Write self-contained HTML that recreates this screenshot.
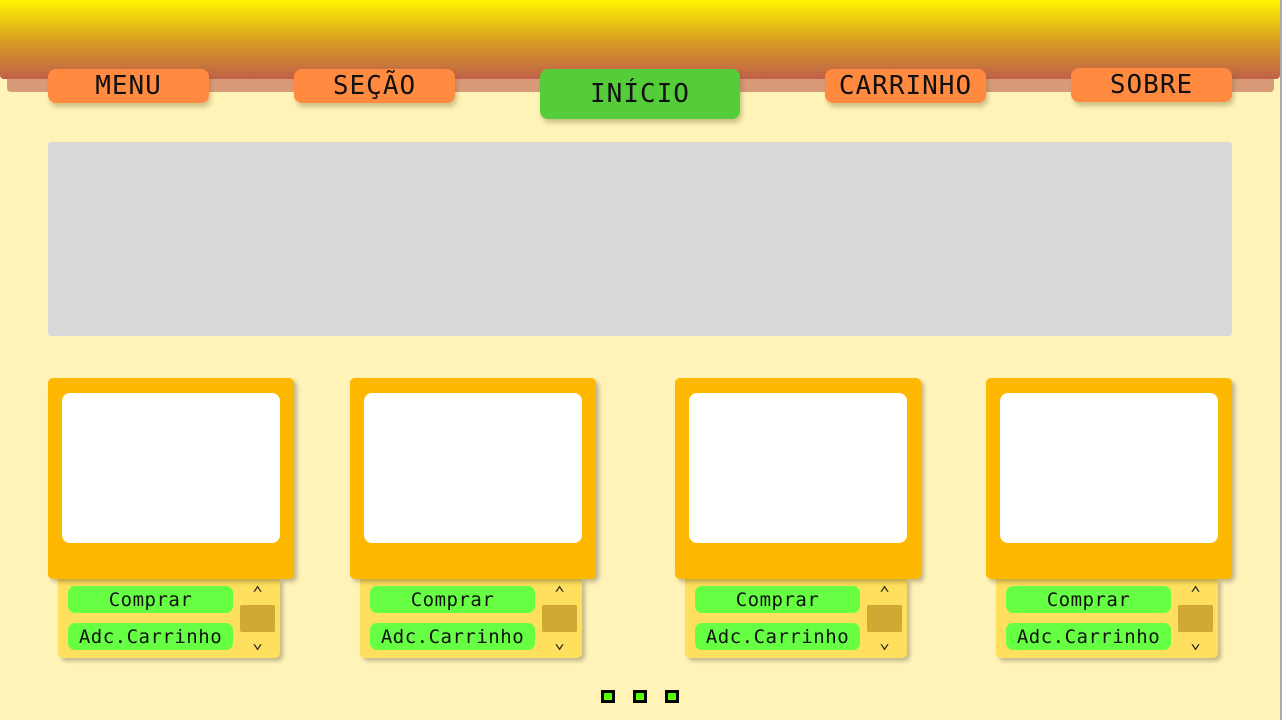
<!DOCTYPE html>
<html><head><style>
body{margin:0;width:1282px;height:720px;background:#fff3b8;position:relative;overflow:hidden;font-family:"DejaVu Sans Mono","Liberation Mono",monospace}
.a{position:absolute}
.hdr{left:0;top:0;width:1280px;height:79px;background:linear-gradient(#fff500,#d9a020 50%,#c0604a);border-radius:0 0 4px 4px}
.band{left:7px;top:76px;width:1267px;height:16px;background:#d99a78;border-radius:0 0 4px 4px}
.edge{left:1280px;top:0;width:2px;height:720px;background:#aaa}
.nav{background:#ff8a40;border-radius:8px;box-shadow:2px 4px 5px rgba(120,100,40,.35);display:flex;align-items:center;justify-content:center;font-size:26px;letter-spacing:1px;color:#111}
.card{width:246px;height:201px;background:#ffb800;border-radius:5px;box-shadow:3px 3px 4px rgba(0,0,0,.25)}
.img{width:218px;height:150px;background:#fff;border-radius:8px}
.pan{width:222px;height:79px;background:#ffdf5e;border-radius:0 0 5px 5px;box-shadow:3px 3px 4px rgba(0,0,0,.25)}
.btn{width:165px;height:27px;background:#66ff44;border-radius:7px;display:flex;align-items:center;justify-content:center;font-size:19px;letter-spacing:0.5px;color:#111}
.scr{width:35px;height:27px;background:#d0a834;border-radius:2px}
.ar{font-size:18px;color:#222;width:35px;text-align:center;line-height:18px}
.dot{width:8px;height:7px;background:#55ff00;border:3px solid #000;top:690px}
</style></head><body>
<div class="a edge"></div>
<div class="a band"></div>
<div class="a hdr"></div>
<div class="a nav" style="left:48px;top:69px;width:161px;height:34px">MENU</div>
<div class="a nav" style="left:294px;top:69px;width:161px;height:34px">SEÇÃO</div>
<div class="a nav" style="left:540px;top:69px;width:200px;height:50px;background:#55cc3a">INÍCIO</div>
<div class="a nav" style="left:825px;top:69px;width:161px;height:34px">CARRINHO</div>
<div class="a nav" style="left:1071px;top:68px;width:161px;height:34px">SOBRE</div>
<div class="a" style="left:48px;top:142px;width:1184px;height:194px;background:#d9d9d9;border-radius:3px"></div>

<div class="a pan" style="left:58px;top:579px"></div><div class="a card" style="left:48px;top:378px"></div><div class="a img" style="left:62px;top:393px"></div>
<div class="a btn" style="left:68px;top:586px">Comprar</div><div class="a btn" style="left:68px;top:623px">Adc.Carrinho</div>
<div class="a ar" style="left:240px;top:585px">⌃</div><div class="a scr" style="left:240px;top:605px"></div><div class="a ar" style="left:240px;top:634px">⌄</div>

<div class="a pan" style="left:360px;top:579px"></div><div class="a card" style="left:350px;top:378px"></div><div class="a img" style="left:364px;top:393px"></div>
<div class="a btn" style="left:370px;top:586px">Comprar</div><div class="a btn" style="left:370px;top:623px">Adc.Carrinho</div>
<div class="a ar" style="left:542px;top:585px">⌃</div><div class="a scr" style="left:542px;top:605px"></div><div class="a ar" style="left:542px;top:634px">⌄</div>

<div class="a pan" style="left:685px;top:579px"></div><div class="a card" style="left:675px;top:378px"></div><div class="a img" style="left:689px;top:393px"></div>
<div class="a btn" style="left:695px;top:586px">Comprar</div><div class="a btn" style="left:695px;top:623px">Adc.Carrinho</div>
<div class="a ar" style="left:867px;top:585px">⌃</div><div class="a scr" style="left:867px;top:605px"></div><div class="a ar" style="left:867px;top:634px">⌄</div>

<div class="a pan" style="left:996px;top:579px"></div><div class="a card" style="left:986px;top:378px"></div><div class="a img" style="left:1000px;top:393px"></div>
<div class="a btn" style="left:1006px;top:586px">Comprar</div><div class="a btn" style="left:1006px;top:623px">Adc.Carrinho</div>
<div class="a ar" style="left:1178px;top:585px">⌃</div><div class="a scr" style="left:1178px;top:605px"></div><div class="a ar" style="left:1178px;top:634px">⌄</div>

<div class="a dot" style="left:601px"></div><div class="a dot" style="left:633px"></div><div class="a dot" style="left:665px"></div>
</body></html>
